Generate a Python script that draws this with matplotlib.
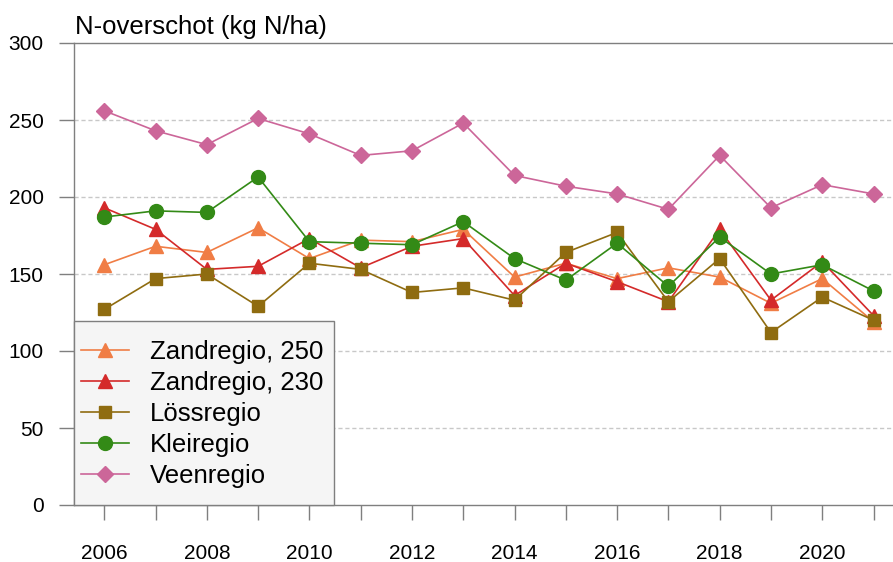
import numpy as np
import matplotlib
matplotlib.use("Agg")
import matplotlib.pyplot as plt
from matplotlib.patches import Rectangle

plt.rcParams['font.family'] = ['Liberation Sans', 'DejaVu Sans']

# data
years = list(range(2006, 2022))
zand_250 = [156, 168, 164, 180, 160, 172, 171, 179, 148, 157, 147, 154, 148, 131, 147, 119]
zand_230 = [193, 179, 153, 155, 173, 154, 168, 173, 136, 157, 145, 132, 179, 133, 158, 123]
loss = [127, 147, 150, 129, 157, 153, 138, 141, 133, 164, 177, 132, 160, 112, 135, 120]
klei = [187, 191, 190, 213, 171, 170, 169, 184, 160, 146, 170, 142, 174, 150, 156, 139]
veen = [256, 243, 234, 251, 241, 227, 230, 248, 214, 207, 202, 192, 227, 193, 208, 202]

series = [
    ("Zandregio, 250", zand_250, "#f07d45", "^", 10),
    ("Zandregio, 230", zand_230, "#d42a2a", "^", 10),
    ("Lössregio", loss, "#8f6c10", "s", 9),
    ("Kleiregio", klei, "#338a16", "o", 10),
    ("Veenregio", veen, "#cc6699", "D", 8.5),
]

grey = "#7f7f7f"

fig = plt.figure(figsize=(8.93, 5.62), dpi=100)
ax = fig.add_axes([74 / 893, 1 - 505 / 562, 1 - 74 / 893, (505 - 43) / 562])

for name, vals, col, mk, ms in series:
    ax.plot(years, vals, color=col, lw=1.2, marker=mk, ms=ms,
            markeredgecolor=col, label=name, clip_on=False)

ax.set_ylim(0, 300)
ax.set_xlim(2005.41, 2021.38)
ax.set_yticks([0, 50, 100, 150, 200, 250, 300])
ax.set_xticks(years[::2])
ax.set_xticks(years[1::2], minor=True)

for y in [50, 100, 150, 200, 250]:
    ax.axhline(y, color="#c8c8c8", lw=1, ls=(0, (3, 2)), zorder=0)

for side in ["top", "bottom", "left"]:
    ax.spines[side].set_color(grey)
    ax.spines[side].set_linewidth(1)
ax.spines["right"].set_visible(False)

ax.tick_params(axis="y", which="major", length=10.8, width=1, color=grey,
               pad=11, labelsize=15)
ax.tick_params(axis="x", which="both", length=10.8, width=1, color=grey,
               pad=17, labelsize=15)

fig.text(75 / 893, 1 - 34 / 562, "N-overschot (kg N/ha)", fontsize=18.5,
         va="baseline", ha="left")

# legend box drawn separately so its size matches
box = Rectangle((0, 0), 260 / 819, 184.5 / 462, transform=ax.transAxes,
                facecolor="#f5f5f5", edgecolor=grey, lw=1, zorder=4, clip_on=False)
ax.add_patch(box)

leg = ax.legend(loc="center left", bbox_to_anchor=(7 / 819, 91 / 462),
                borderaxespad=0, borderpad=0, frameon=False,
                fontsize=18.5, handlelength=1.85, handletextpad=0.85,
                labelspacing=0.28)
leg.set_zorder(5)

fig.savefig("out.png", dpi=100)
